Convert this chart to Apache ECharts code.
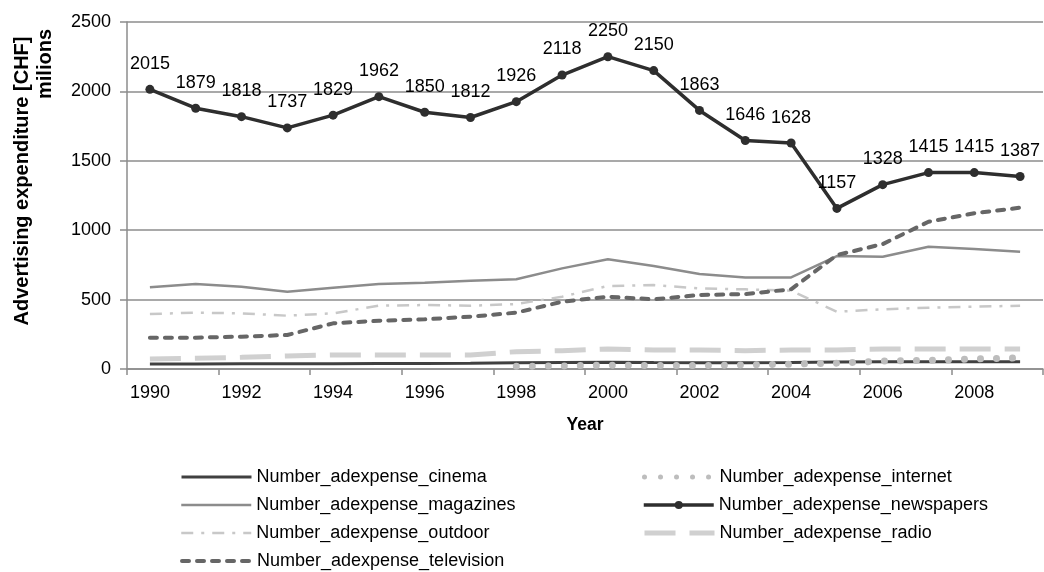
<!DOCTYPE html>
<html>
<head>
<meta charset="utf-8">
<script src="https://cdn.jsdelivr.net/npm/echarts@6/dist/echarts.min.js"></script>
<style>
  html, body { margin: 0; padding: 0; background: #ffffff; }
  #chart { width: 1044px; height: 572px; }
</style>
</head>
<body>
<div id="chart"></div>
<script>
// Swiss advertising expenditure by medium, millions of CHF
const years = ['1990','1991','1992','1993','1994','1995','1996','1997','1998','1999',
               '2000','2001','2002','2003','2004','2005','2006','2007','2008','2009'];
const cinema     = [36, 36, 38, 37, 37, 39, 40, 42, 45, 47, 48, 46, 45, 45, 47, 50, 52, 53, 53, 53];
const internet   = [null, null, null, null, null, null, null, null, 20, 22, 28, 25, 25, 30, 35, 42, 57, 62, 72, 80];
const magazines  = [589, 612, 593, 557, 586, 612, 622, 636, 646, 725, 790, 742, 684, 660, 660, 814, 809, 881, 864, 845];
const newspapers = [2015, 1879, 1818, 1737, 1829, 1962, 1850, 1812, 1926, 2118, 2250, 2150, 1863, 1646, 1628, 1157, 1328, 1415, 1415, 1387];
const outdoor    = [396, 406, 401, 384, 401, 456, 461, 456, 468, 521, 598, 605, 581, 574, 564, 413, 430, 442, 449, 456];
const radio      = [72, 77, 84, 94, 101, 101, 101, 101, 125, 132, 144, 137, 137, 132, 137, 137, 144, 144, 144, 144];
const television = [226, 226, 233, 245, 329, 348, 358, 377, 406, 485, 521, 502, 533, 540, 574, 821, 900, 1061, 1122, 1162];
const yTicks = { min: 0, max: 2500, interval: 500 };

const FONT = '"Liberation Sans", Arial, sans-serif';
const AXIS_GRAY = '#8c8c8c';

// Line look of each medium: colour, width, dash pattern, cap
const styles = {
  Number_adexpense_cinema:     { color: '#404040', width: 3,   type: 'solid' },
  Number_adexpense_internet:   { color: '#bdbdbd', width: 7,   type: [0.01, 16], cap: 'round' },
  Number_adexpense_magazines:  { color: '#8c8c8c', width: 2.5, type: 'solid' },
  Number_adexpense_newspapers: { color: '#2e2e2e', width: 3.5, type: 'solid' },
  Number_adexpense_outdoor:    { color: '#c8c8c8', width: 2.5, type: [12, 8, 3, 8] },
  Number_adexpense_radio:      { color: '#d0d0d0', width: 5,   type: [31, 14] },
  Number_adexpense_television: { color: '#666666', width: 4,   type: [7, 8], cap: 'round' }
};

const chart = echarts.init(document.getElementById('chart'), null, { renderer: 'canvas' });

function lineSeries(name, data, extra) {
  const s = styles[name];
  return Object.assign({
    name: name,
    type: 'line',
    data: data,
    symbol: 'none',
    connectNulls: false,
    animation: false,
    lineStyle: Object.assign({}, s),
    itemStyle: { color: s.color }
  }, extra || {});
}

const series = [
  lineSeries('Number_adexpense_cinema', cinema),
  lineSeries('Number_adexpense_internet', internet),
  lineSeries('Number_adexpense_magazines', magazines),
  lineSeries('Number_adexpense_newspapers', newspapers, {
    symbol: 'circle',
    symbolSize: 9,
    z: 5,
    label: {
      show: true,
      position: 'top',
      distance: 12,
      color: '#000',
      fontFamily: FONT,
      fontSize: 18
    }
  }),
  lineSeries('Number_adexpense_outdoor', outdoor),
  lineSeries('Number_adexpense_radio', radio),
  lineSeries('Number_adexpense_television', television)
];

// Legend: two columns, one legend box per entry
const legendRows = [
  { name: 'Number_adexpense_cinema',     left: 180, center: 477 },
  { name: 'Number_adexpense_magazines',  left: 180, center: 505 },
  { name: 'Number_adexpense_outdoor',    left: 180, center: 533 },
  { name: 'Number_adexpense_television', left: 180, center: 561 },
  { name: 'Number_adexpense_internet',   left: 642, center: 477 },
  { name: 'Number_adexpense_newspapers', left: 642, center: 505 },
  { name: 'Number_adexpense_radio',      left: 642, center: 533 }
];

const legends = legendRows.map(function (r) {
  const s = styles[r.name];
  const withDot = r.name === 'Number_adexpense_newspapers';
  return {
    orient: 'horizontal',
    left: r.left,
    top: r.center - 9,
    padding: 0,
    itemWidth: 70,
    itemHeight: withDot ? 10 : 14,
    textStyle: { color: '#000', fontFamily: FONT, fontSize: 18 },
    itemStyle: withDot ? { color: s.color } : { opacity: 0 },
    lineStyle: { color: s.color, width: Math.min(s.width, 5), type: s.type, cap: s.cap || 'butt' },
    data: [r.name]
  };
});

chart.setOption({
  backgroundColor: '#ffffff',
  animation: false,
  grid: { left: 127, right: 1, top: 22, bottom: 203, containLabel: false },
  xAxis: {
    type: 'category',
    data: years,
    boundaryGap: true,
    name: 'Year',
    nameLocation: 'middle',
    nameGap: 47,
    nameTextStyle: { color: '#000', fontFamily: FONT, fontSize: 17.5, fontWeight: 'bold' },
    axisLine: { lineStyle: { color: AXIS_GRAY, width: 1.5 } },
    axisTick: { show: true, interval: 1, length: 6, lineStyle: { color: AXIS_GRAY, width: 1.5 } },
    axisLabel: { interval: 1, margin: 15, color: '#000', fontFamily: FONT, fontSize: 18 },
    splitLine: { show: false }
  },
  yAxis: {
    type: 'value',
    min: yTicks.min,
    max: yTicks.max,
    interval: yTicks.interval,
    axisLine: { show: true, lineStyle: { color: AXIS_GRAY, width: 1.5 } },
    axisTick: { show: true, length: 7, lineStyle: { color: AXIS_GRAY, width: 1.5 } },
    axisLabel: {
      margin: 16, color: '#000', fontFamily: FONT, fontSize: 18,
      formatter: function (v) { return String(v); }
    },
    splitLine: { show: true, lineStyle: { color: AXIS_GRAY, width: 1.5 } }
  },
  legend: legends,
  graphic: [
    {
      type: 'text',
      x: 22, y: 181,
      rotation: Math.PI / 2,
      style: {
        text: 'Advertising expenditure [CHF]',
        fill: '#000',
        font: 'bold 20px ' + FONT,
        align: 'center',
        verticalAlign: 'middle'
      }
    },
    {
      type: 'text',
      x: 45, y: 64,
      rotation: Math.PI / 2,
      style: {
        text: 'milions',
        fill: '#000',
        font: 'bold 20px ' + FONT,
        align: 'center',
        verticalAlign: 'middle'
      }
    }
  ],
  series: series
});
</script>
</body>
</html>
